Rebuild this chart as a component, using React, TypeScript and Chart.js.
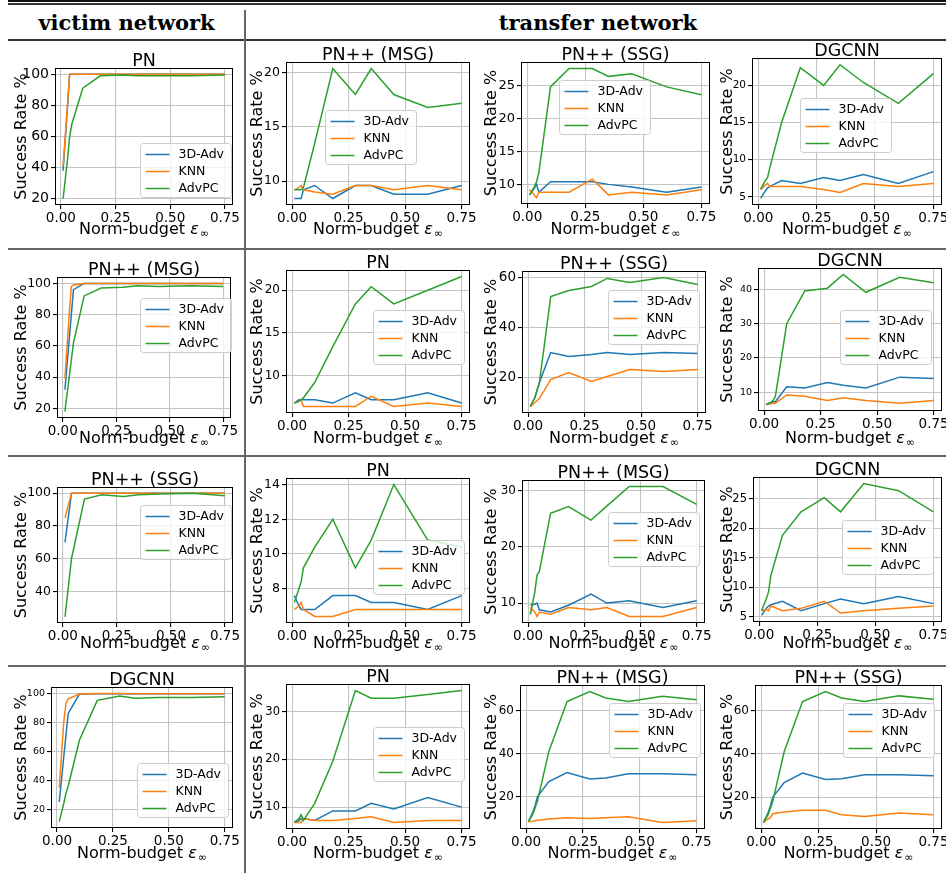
import React, { useEffect, useRef } from "react";
import { Chart, registerables } from "chart.js";

Chart.register(...registerables);

// ---------- data ----------
const EPS = [0.01, 0.03, 0.04, 0.05, 0.1, 0.18, 0.28, 0.35, 0.45, 0.6, 0.75];
const SERIES = ["3D-Adv", "KNN", "AdvPC"];
const COLORS = ["#1f77b4", "#ff7f0e", "#2ca02c"];
const X_TICK_STEP = 0.25;
const Y_LABEL = "Success Rate %";
const HEADERS = ["victim network", "transfer network"];

// row 1 : victim PN
const r1c0_3dadv = [38, 79, 100, 100, 100, 100, 100, 100, 100, 100, 100];
const r1c0_knn = [41, 80, 100, 100, 100, 100, 100, 100, 100, 100, 100];
const r1c0_advpc = [20, 45, 60, 68, 91, 99, 99.5, 99, 99, 99, 99.5];
const r1c1_3dadv = [8.4, 8.4, 8.4, 9.2, 9.6, 8.4, 9.6, 9.6, 8.8, 8.8, 9.6];
const r1c1_knn = [9.2, 9.4, 9.6, 9.2, 9.0, 8.8, 9.6, 9.6, 9.2, 9.6, 9.2];
const r1c1_advpc = [9.2, 9.2, 9.2, 9.4, 13.5, 20.4, 18.0, 20.4, 18.0, 16.8, 17.2];
const r1c2_3dadv = [8.4, 9.4, 10.0, 8.8, 10.4, 10.4, 10.4, 10.0, 9.6, 8.8, 9.6];
const r1c2_knn = [9.2, 8.4, 8.0, 8.8, 8.8, 8.8, 10.8, 8.4, 8.8, 8.4, 9.2];
const r1c2_advpc = [8.4, 9.6, 10.4, 11.8, 24.8, 27.6, 27.6, 26.4, 26.8, 24.8, 23.6];
const r1c3_3dadv = [4.8, 5.8, 6.2, 6.4, 7.2, 6.8, 7.6, 7.2, 8.0, 6.8, 8.4];
const r1c3_knn = [6.0, 6.6, 6.8, 6.4, 6.4, 6.4, 6.0, 5.6, 6.8, 6.4, 6.8];
const r1c3_advpc = [6.0, 7.2, 7.6, 9.0, 15.0, 22.4, 20.0, 22.8, 20.4, 17.6, 21.6];

// row 2 : victim PN++ (MSG)
const r2c0_3dadv = [32, 64, 80, 96, 100, 100, 100, 100, 100, 100, 100];
const r2c0_knn = [39, 80, 98, 99, 100, 100, 100, 100, 100, 100, 100];
const r2c0_advpc = [18, 40, 51, 62, 92, 97, 97.5, 98.5, 98, 98.5, 98];
const r2c1_3dadv = [6.8, 7.2, 7.2, 7.2, 7.2, 6.8, 8.0, 7.2, 7.2, 8.0, 6.8];
const r2c1_knn = [6.8, 7.0, 7.2, 6.4, 6.4, 6.4, 6.4, 7.6, 6.4, 6.8, 6.4];
const r2c1_advpc = [6.8, 7.0, 7.2, 7.4, 9.2, 13.4, 18.4, 20.4, 18.4, 20.0, 21.6];
const r2c2_3dadv = [8.4, 12, 15, 18, 30, 28.4, 29.2, 30, 29.2, 30, 29.6];
const r2c2_knn = [8.4, 10, 10.8, 11.6, 19.2, 22, 18.4, 20.4, 23.2, 22.4, 23.2];
const r2c2_advpc = [8.4, 12, 15, 18, 52.4, 54.8, 56.4, 59.6, 58, 60, 57.2];
const r2c3_3dadv = [6.4, 7.0, 7.2, 7.2, 11.6, 11.2, 12.8, 12.0, 11.2, 14.4, 14.0];
const r2c3_knn = [6.4, 6.6, 6.8, 6.8, 9.2, 8.8, 7.6, 8.4, 7.6, 6.8, 7.6];
const r2c3_advpc = [6.4, 7.0, 7.6, 8.8, 30, 39.6, 40.4, 44.4, 39.2, 43.6, 42];

// row 3 : victim PN++ (SSG)
const r3c0_3dadv = [70, 90, 100, 100, 100, 100, 100, 100, 100, 100, 100];
const r3c0_knn = [85, 95, 100, 100, 100, 100, 100, 100, 100, 100, 100];
const r3c0_advpc = [24.4, 48, 60, 66, 96.4, 99, 98, 99, 99.5, 100, 98.4];
const r3c1_3dadv = [7.6, 7.0, 6.8, 6.8, 6.8, 7.6, 7.6, 7.2, 7.2, 6.8, 7.6];
const r3c1_knn = [6.8, 7.0, 7.2, 6.8, 6.4, 6.4, 6.8, 6.8, 6.8, 6.8, 6.8];
const r3c1_advpc = [7.2, 8.0, 8.4, 9.2, 10.4, 12.0, 9.2, 10.8, 14.0, 10.8, 10.4];
const r3c2_3dadv = [9.6, 9.8, 10.0, 8.8, 8.4, 9.6, 11.6, 10.0, 10.4, 9.2, 10.4];
const r3c2_knn = [9.2, 8.4, 7.6, 8.4, 8.0, 9.2, 8.8, 9.2, 7.6, 7.6, 9.2];
const r3c2_advpc = [8.0, 12.0, 15.0, 15.6, 26.0, 27.2, 24.8, 27.3, 30.8, 30.8, 27.6];
const r3c3_3dadv = [5.2, 6.4, 6.8, 7.0, 7.6, 6.0, 7.2, 8.0, 7.2, 8.4, 7.2];
const r3c3_knn = [6.0, 6.2, 6.0, 6.8, 6.0, 6.4, 7.6, 5.6, 6.0, 6.4, 6.8];
const r3c3_advpc = [6.0, 8.0, 9.2, 12.0, 18.8, 22.8, 25.2, 22.8, 27.6, 26.4, 22.8];

// row 4 : victim DGCNN
const r4c0_3dadv = [25, 56, 71, 86, 99.3, 99.5, 99.5, 99.5, 99.5, 99.5, 99.5];
const r4c0_knn = [35, 80, 93, 96, 99.3, 99.8, 99.8, 99.5, 99.5, 99.5, 99.5];
const r4c0_advpc = [11.5, 24, 31, 36, 67.5, 95, 98, 96.5, 97, 97, 97.5];
const r4c1_3dadv = [6.8, 7.2, 7.6, 7.6, 7.2, 9.2, 9.2, 10.8, 9.6, 12.0, 10.0];
const r4c1_knn = [6.8, 6.8, 6.8, 7.6, 7.2, 7.2, 7.6, 8.0, 6.8, 7.2, 7.2];
const r4c1_advpc = [6.8, 7.6, 8.4, 7.2, 10.8, 19.6, 34.4, 32.8, 32.8, 33.6, 34.4];
const r4c2_3dadv = [8.4, 13, 16, 20, 27, 31.2, 28.2, 28.6, 30.6, 30.6, 30.2];
const r4c2_knn = [8.4, 8.6, 8.8, 9.0, 9.6, 10.2, 9.8, 10.2, 10.6, 8.0, 8.8];
const r4c2_advpc = [8.4, 12, 15, 18, 41, 64.2, 68.8, 65.8, 64.2, 66.6, 65.0];
const r4c3_3dadv = [8.4, 13, 16, 20, 26.8, 31.2, 28.2, 28.6, 30.4, 30.4, 30.0];
const r4c3_knn = [8.4, 10.0, 10.6, 12.4, 13.2, 14.0, 14.0, 12.0, 11.2, 12.8, 12.0];
const r4c3_advpc = [8.4, 12, 15, 18, 41, 64.2, 68.8, 65.8, 64.2, 66.8, 65.2];

// ---------- layout ----------
const FONT = '"DejaVu Sans", sans-serif';
const Y_TITLE_X = [22, 258, 492, 728];
const X_TITLE_Y = [228, 437, 642, 852];
const X_MIN = -0.027;
const X_MAX = 0.787;

type PanelSpec = {
  row: number;
  col: number;
  title: string;
  vals: number[][];
  y: [number, number, number];
  yFont: number;
  rect: [number, number, number, number];
  legend: [number, number];
};

const PANELS: PanelSpec[] = [
  { row: 0, col: 0, title: "PN", vals: [r1c0_3dadv, r1c0_knn, r1c0_advpc], y: [16, 104, 20], yFont: 14, rect: [55, 68, 233, 205], legend: [0.478, 0.547] },
  { row: 0, col: 1, title: "PN++ (MSG)", vals: [r1c1_3dadv, r1c1_knn, r1c1_advpc], y: [7.8, 21.0, 5], yFont: 12.5, rect: [286, 62, 470, 205], legend: [0.212, 0.336] },
  { row: 0, col: 2, title: "PN++ (SSG)", vals: [r1c2_3dadv, r1c2_knn, r1c2_advpc], y: [7.02, 28.58, 5], yFont: 13, rect: [521, 62, 710, 204], legend: [0.201, 0.127] },
  { row: 0, col: 3, title: "DGCNN", vals: [r1c3_3dadv, r1c3_knn, r1c3_advpc], y: [3.9, 23.7, 5], yFont: 10.5, rect: [752, 58, 942, 205], legend: [0.253, 0.272] },

  { row: 1, col: 0, title: "PN++ (MSG)", vals: [r2c0_3dadv, r2c0_knn, r2c0_advpc], y: [13.9, 104.1, 20], yFont: 12.5, rect: [57, 277, 231, 418], legend: [0.477, 0.149] },
  { row: 1, col: 1, title: "PN", vals: [r2c1_3dadv, r2c1_knn, r2c1_advpc], y: [5.64, 22.36, 5], yFont: 12, rect: [286, 270, 470, 413], legend: [0.473, 0.28] },
  { row: 1, col: 2, title: "PN++ (SSG)", vals: [r2c2_3dadv, r2c2_knn, r2c2_advpc], y: [5.82, 62.58, 20], yFont: 13.5, rect: [522, 271, 706, 413], legend: [0.467, 0.134] },
  { row: 1, col: 3, title: "DGCNN", vals: [r2c3_3dadv, r2c3_knn, r2c3_advpc], y: [4.5, 46.3, 10], yFont: 9.5, rect: [758, 268, 942, 411], legend: [0.446, 0.294] },

  { row: 2, col: 0, title: "PN++ (SSG)", vals: [r3c0_3dadv, r3c0_knn, r3c0_advpc], y: [20.62, 103.78, 20], yFont: 12.5, rect: [57, 487, 233, 623], legend: [0.472, 0.132] },
  { row: 2, col: 1, title: "PN", vals: [r3c1_3dadv, r3c1_knn, r3c1_advpc], y: [6.02, 14.38, 2], yFont: 12.5, rect: [286, 478, 470, 623], legend: [0.473, 0.428] },
  { row: 2, col: 2, title: "PN++ (MSG)", vals: [r3c2_3dadv, r3c2_knn, r3c2_advpc], y: [6.44, 31.96, 10], yFont: 12, rect: [522, 480, 705, 623], legend: [0.47, 0.224] },
  { row: 2, col: 3, title: "DGCNN", vals: [r3c3_3dadv, r3c3_knn, r3c3_advpc], y: [4.08, 28.72, 5], yFont: 11.5, rect: [753, 477, 942, 622], legend: [0.471, 0.297] },

  { row: 3, col: 0, title: "DGCNN", vals: [r4c0_3dadv, r4c0_knn, r4c0_advpc], y: [7.1, 104.2, 20], yFont: 9.5, rect: [51, 687, 233, 828], legend: [0.473, 0.539] },
  { row: 3, col: 1, title: "PN", vals: [r4c1_3dadv, r4c1_knn, r4c1_advpc], y: [5.42, 35.78, 10], yFont: 11.5, rect: [286, 684, 470, 829], legend: [0.473, 0.297] },
  { row: 3, col: 2, title: "PN++ (MSG)", vals: [r4c2_3dadv, r4c2_knn, r4c2_advpc], y: [4.96, 71.84, 20], yFont: 12, rect: [520, 685, 705, 829], legend: [0.481, 0.125] },
  { row: 3, col: 3, title: "PN++ (SSG)", vals: [r4c3_3dadv, r4c3_knn, r4c3_advpc], y: [5.38, 71.82, 20], yFont: 12, rect: [755, 685, 942, 829], legend: [0.47, 0.125] },
];

const decorPlugin = {
  id: "panelDecor",
  afterDraw(chart: any, _args: any, opts: any) {
    const { ctx, chartArea: a } = chart;
    ctx.save();
    // spines
    ctx.strokeStyle = "#000";
    ctx.lineWidth = 1;
    const l = Math.round(a.left) + 0.5;
    const t = Math.round(a.top) + 0.5;
    const r = Math.round(a.right) - 0.5;
    const b = Math.round(a.bottom) - 0.5;
    ctx.strokeRect(l, t, r - l, b - t);

    // title
    ctx.fillStyle = "#000";
    ctx.font = `17.5px ${FONT}`;
    ctx.textAlign = "center";
    ctx.textBaseline = "alphabetic";
    ctx.fillText(opts.title, (a.left + a.right) / 2, a.top - 2);

    // x label: Norm-budget ε∞
    const cx = (a.left + a.right) / 2;
    const cy = opts.xLabelY;
    const t1 = "Norm-budget ";
    const t2 = "ε";
    const t3 = "∞";
    ctx.font = `16px ${FONT}`;
    const w1 = ctx.measureText(t1).width;
    ctx.font = `italic 16px ${FONT}`;
    const w2 = ctx.measureText(t2).width;
    ctx.font = `11px ${FONT}`;
    const w3 = ctx.measureText(t3).width;
    let x = cx - (w1 + w2 + w3 + 1) / 2;
    const base = cy + 6;
    ctx.textAlign = "left";
    ctx.font = `16px ${FONT}`;
    ctx.fillText(t1, x, base);
    x += w1;
    ctx.font = `italic 16px ${FONT}`;
    ctx.fillText(t2, x, base);
    x += w2 + 1;
    ctx.font = `11px ${FONT}`;
    ctx.fillText(t3, x, base + 3);

    // legend
    const W = 91;
    const H = 54;
    const lx = Math.round(a.left + opts.legend[0] * (a.right - a.left)) + 0.5;
    const ly = Math.round(a.top + opts.legend[1] * (a.bottom - a.top)) + 0.5;
    const rad = 3;
    ctx.beginPath();
    ctx.moveTo(lx + rad, ly);
    ctx.lineTo(lx + W - rad, ly);
    ctx.arcTo(lx + W, ly, lx + W, ly + rad, rad);
    ctx.lineTo(lx + W, ly + H - rad);
    ctx.arcTo(lx + W, ly + H, lx + W - rad, ly + H, rad);
    ctx.lineTo(lx + rad, ly + H);
    ctx.arcTo(lx, ly + H, lx, ly + H - rad, rad);
    ctx.lineTo(lx, ly + rad);
    ctx.arcTo(lx, ly, lx + rad, ly, rad);
    ctx.closePath();
    ctx.fillStyle = "rgba(255,255,255,0.8)";
    ctx.fill();
    ctx.strokeStyle = "#cccccc";
    ctx.lineWidth = 1;
    ctx.stroke();
    chart.data.datasets.forEach((ds: any, i: number) => {
      const yy = ly + 11 + i * 17;
      ctx.strokeStyle = ds.borderColor;
      ctx.lineWidth = 1.5;
      ctx.beginPath();
      ctx.moveTo(lx + 5, yy);
      ctx.lineTo(lx + 29, yy);
      ctx.stroke();
      ctx.fillStyle = "#000";
      ctx.font = `12.5px ${FONT}`;
      ctx.textAlign = "left";
      ctx.textBaseline = "middle";
      ctx.fillText(ds.label, lx + 38, yy);
    });
    ctx.restore();
  },
};

function Panel({ p }: { p: PanelSpec }) {
  const ref = useRef<HTMLCanvasElement>(null);
  const [L, T, R, B] = p.rect;
  const cLeft = Y_TITLE_X[p.col] - 10;
  const cTop = T - 30;
  const cRight = R + 10;
  const cBottom = X_TITLE_Y[p.row] + 12;
  const w = cRight - cLeft;
  const h = cBottom - cTop;

  useEffect(() => {
    const grid = { color: "#c4c4c4", lineWidth: 1.1, tickColor: "#000", tickLength: 4 };
    const chart = new Chart(ref.current as HTMLCanvasElement, {
      type: "line",
      data: {
        datasets: SERIES.map((name, i) => ({
          label: name,
          data: EPS.map((x, k) => ({ x, y: p.vals[i][k] })),
          borderColor: COLORS[i],
          backgroundColor: COLORS[i],
          borderWidth: 1.5,
          pointRadius: 0,
          tension: 0,
          fill: false,
          order: 3 - i,
        })),
      },
      options: {
        responsive: false,
        animation: false,
        events: [],
        layout: { padding: { top: T - cTop, right: cRight - R, left: 0, bottom: 0 } },
        plugins: {
          legend: { display: false },
          tooltip: { enabled: false },
          panelDecor: { title: p.title, legend: p.legend, xLabelY: X_TITLE_Y[p.row] - cTop },
        } as any,
        scales: {
          x: {
            type: "linear",
            min: X_MIN,
            max: X_MAX,
            afterFit: (s: any) => {
              s.height = cBottom - B;
            },
            ticks: {
              stepSize: X_TICK_STEP,
              includeBounds: false,
              autoSkip: false,
              maxRotation: 0,
              padding: 1,
              color: "#000",
              font: { family: FONT, size: 13.5 },
              callback: (v: any) => Number(v).toFixed(2),
            },
            grid,
            border: { display: false },
          },
          y: {
            type: "linear",
            min: p.y[0],
            max: p.y[1],
            afterFit: (s: any) => {
              s.width = L - cLeft;
            },
            ticks: {
              stepSize: p.y[2],
              includeBounds: false,
              autoSkip: false,
              padding: 2,
              color: "#000",
              font: { family: FONT, size: p.yFont },
              callback: (v: any) => String(Math.round(Number(v))),
            },
            grid,
            border: { display: false },
            title: {
              display: true,
              text: Y_LABEL,
              color: "#000",
              padding: 0,
              font: { family: FONT, size: 16 },
            },
          },
        } as any,
      },
      plugins: [decorPlugin],
    } as any);
    return () => chart.destroy();
  }, []);

  return (
    <canvas
      ref={ref}
      width={w}
      height={h}
      style={{ position: "absolute", left: cLeft, top: cTop, width: w, height: h }}
    />
  );
}

function Line({ x, y, w, h, c }: { x: number; y: number; w: number; h: number; c: string }) {
  return <div style={{ position: "absolute", left: x, top: y, width: w, height: h, background: c }} />;
}

export default function App() {
  const headerStyle: React.CSSProperties = {
    position: "absolute",
    top: 9,
    fontFamily: '"DejaVu Serif", serif',
    fontWeight: "bold",
    fontSize: 21,
    lineHeight: "28px",
    textAlign: "center",
    color: "#000",
    whiteSpace: "nowrap",
  };
  return (
    <div
      style={{
        position: "absolute",
        left: 0,
        top: 0,
        width: 946,
        height: 873,
        background: "#fff",
        overflow: "hidden",
      }}
    >
      <Line x={8} y={0} w={938} h={2} c="#111" />
      <Line x={8} y={3} w={938} h={1.5} c="#333" />
      <div style={{ ...headerStyle, left: 8, width: 237 }}>{HEADERS[0]}</div>
      <div style={{ ...headerStyle, left: 250, width: 696 }}>{HEADERS[1]}</div>
      <Line x={8} y={39} w={938} h={1.5} c="#333" />
      <Line x={244} y={10} w={2} h={863} c="#666" />
      <Line x={8} y={248} w={938} h={1.5} c="#666" />
      <Line x={8} y={455} w={938} h={1.5} c="#666" />
      <Line x={8} y={665} w={938} h={1.5} c="#666" />
      {PANELS.map((p, i) => (
        <Panel key={i} p={p} />
      ))}
    </div>
  );
}
